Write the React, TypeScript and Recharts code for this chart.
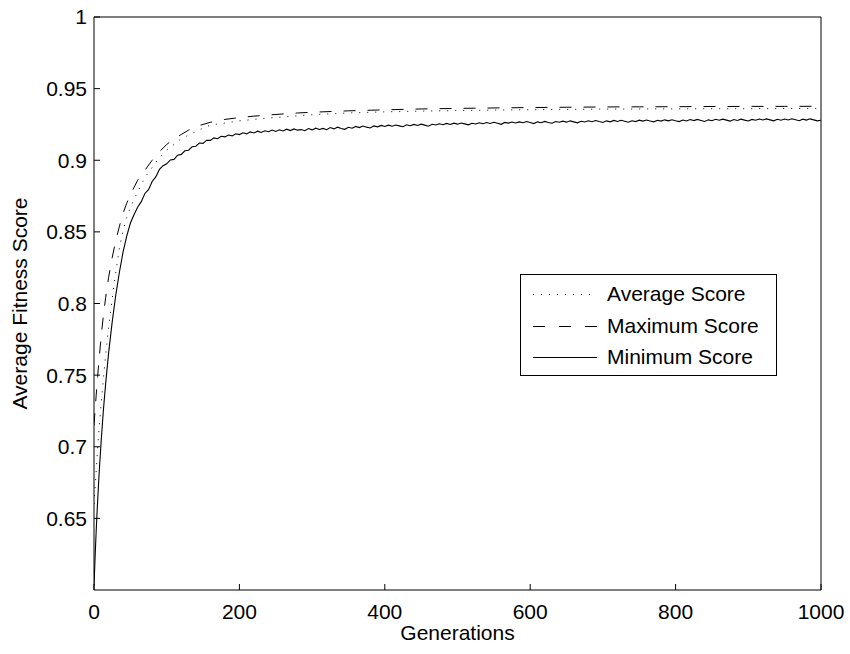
import { LineChart, Line, XAxis, YAxis, Legend } from 'recharts'

const FONT = '"Liberation Sans", Arial, Helvetica, sans-serif'

// generations sampled for the smooth series (max / average)
const GENERATIONS = [
  0, 1, 2, 3, 5, 7, 10, 13, 16, 20,
  25, 30, 35, 40, 45, 50,
  60, 70, 80, 90, 100, 110, 120, 130, 140, 150, 160,
  180, 200, 220, 240, 260, 280, 300,
  350, 400, 450, 500, 550, 600, 650, 700, 750, 800, 850, 900, 950, 1000,
]

const MAX_SCORE = [
  0.715, 0.722, 0.729, 0.736, 0.749, 0.761, 0.778, 0.792, 0.804, 0.818,
  0.832, 0.844, 0.854, 0.863, 0.87, 0.876,
  0.886, 0.893, 0.9, 0.906, 0.911, 0.915, 0.918, 0.921, 0.9235, 0.925, 0.9265,
  0.9285, 0.9298, 0.9308, 0.9316, 0.9323, 0.933, 0.9335,
  0.9345, 0.9352, 0.9358, 0.9362, 0.9365, 0.9368, 0.937, 0.9372, 0.9373, 0.9374, 0.9375, 0.9376, 0.9376, 0.9377,
]

const AVG_SCORE = [
  0.66, 0.668, 0.675, 0.683, 0.699, 0.713, 0.731, 0.748, 0.764, 0.783,
  0.803, 0.822, 0.839, 0.851, 0.86, 0.867,
  0.878, 0.888, 0.895, 0.902, 0.907, 0.911, 0.915, 0.9175, 0.92, 0.9225, 0.9245,
  0.926, 0.9275, 0.9285, 0.9295, 0.9302, 0.931, 0.9318,
  0.933, 0.9338, 0.9343, 0.9347, 0.935, 0.9353, 0.9355, 0.9357, 0.9358, 0.9359, 0.936, 0.936, 0.9361, 0.9362,
]

// minimum score: fine start, then every 5 generations from 60 on
const MIN_GEN_EARLY = [0, 1, 2, 3, 4, 5, 7, 10, 13, 16, 20, 25, 30, 35, 40, 45, 50, 55]
const MIN_EARLY = [
  0.603, 0.616, 0.629, 0.641, 0.652, 0.662, 0.681, 0.705, 0.726, 0.744,
  0.765, 0.787, 0.806, 0.822, 0.836, 0.847, 0.856, 0.862,
]
const MIN_LATE = [
  0.8672, 0.8711, 0.8768, 0.8795, 0.8852, 0.8884, 0.8936, 0.8962, 0.8975, 0.9002,
  0.9006, 0.9035, 0.9041, 0.9066, 0.907, 0.9094, 0.9098, 0.912, 0.9118, 0.914,
  0.9139, 0.9156, 0.915, 0.9167, 0.9163, 0.9176, 0.917, 0.9185, 0.9179, 0.9192,
  0.9184, 0.9198, 0.919, 0.9203, 0.9194, 0.9206, 0.9199, 0.9211, 0.9201, 0.9213,
  0.9204, 0.9217, 0.9207, 0.9219, 0.921, 0.9214, 0.9206, 0.9221, 0.9212, 0.9224,
  0.9215, 0.9222, 0.9213, 0.9228, 0.9219, 0.9231, 0.9222, 0.9216, 0.923, 0.9224,
  0.9236, 0.9228, 0.9239, 0.9231, 0.9225, 0.924, 0.9233, 0.9243, 0.9236, 0.9245,
  0.9238, 0.9246, 0.924, 0.9234, 0.9248, 0.9241, 0.925, 0.9243, 0.9252, 0.9245,
  0.9238, 0.9251, 0.9246, 0.9255, 0.9248, 0.9257, 0.925, 0.9259, 0.9252, 0.926,
  0.9254, 0.9247, 0.9258, 0.9253, 0.9262, 0.9255, 0.9263, 0.9257, 0.9265, 0.9258,
  0.9251, 0.9264, 0.9259, 0.9267, 0.926, 0.9268, 0.9262, 0.927, 0.9263, 0.9256,
  0.9268, 0.9262, 0.9271, 0.9264, 0.9258, 0.927, 0.9265, 0.9273, 0.9266, 0.9275,
  0.9268, 0.9261, 0.9272, 0.9267, 0.9276, 0.9269, 0.9277, 0.927, 0.9264, 0.9275,
  0.9268, 0.9278, 0.9271, 0.9279, 0.9272, 0.9265, 0.9276, 0.927, 0.928, 0.9273,
  0.9281, 0.9274, 0.9268, 0.9279, 0.9273, 0.9282, 0.9275, 0.9283, 0.9276, 0.927,
  0.9281, 0.9274, 0.9284, 0.9277, 0.9285, 0.9278, 0.9271, 0.9282, 0.9276, 0.9286,
  0.9279, 0.9287, 0.928, 0.9273, 0.9284, 0.9278, 0.9287, 0.928, 0.9274, 0.9285,
  0.9279, 0.9288, 0.9281, 0.9289, 0.9282, 0.9275, 0.9286, 0.9279, 0.9288, 0.9281,
  0.929, 0.9283, 0.9276, 0.9287, 0.928, 0.9289, 0.9282, 0.9275, 0.9279,
]
const MIN_GEN_LATE = MIN_LATE.map((_v, i) => 60 + 5 * i)

const X_TICKS = [0, 200, 400, 600, 800, 1000]
const Y_TICKS = [0.65, 0.7, 0.75, 0.8, 0.85, 0.9, 0.95, 1]
const SERIES_NAMES = ['Average Score', 'Maximum Score', 'Minimum Score']

const maxData = GENERATIONS.map((gen, i) => ({ gen, score: MAX_SCORE[i] }))
const avgData = GENERATIONS.map((gen, i) => ({ gen, score: AVG_SCORE[i] }))
const minData = [
  ...MIN_GEN_EARLY.map((gen, i) => ({ gen, score: MIN_EARLY[i] })),
  ...MIN_GEN_LATE.map((gen, i) => ({ gen, score: MIN_LATE[i] })),
]

const DOTTED = '1 7'
const DASHED = '12 12'

const LegendBox = () => {
  const samples = [DOTTED, '12 14', undefined]
  return (
    <div
      style={{
        position: 'relative',
        width: 255,
        height: 100,
        border: '1px solid #000',
        background: '#fff',
        fontFamily: FONT,
        fontSize: 21,
        color: '#000',
      }}
    >
      {SERIES_NAMES.map((name, i) => (
        <div
          key={name}
          style={{
            position: 'absolute',
            left: 0,
            top: 7 + i * 31.5,
            height: 24,
            lineHeight: '24px',
            whiteSpace: 'nowrap',
          }}
        >
          <svg width={80} height={24} style={{ position: 'absolute', left: 0, top: 0 }}>
            <line
              x1={12}
              x2={76}
              y1={12.5}
              y2={12.5}
              stroke='#000'
              strokeWidth={1}
              strokeDasharray={samples[i]}
            />
          </svg>
          <span style={{ position: 'absolute', left: 86, top: 0 }}>{name}</span>
        </div>
      ))}
    </div>
  )
}

const tickStyle = { fill: '#000', fontSize: 21, fontFamily: FONT }

export default function App() {
  return (
    <div style={{ position: 'absolute', left: 0, top: 0, background: '#fff', fontFamily: FONT }}>
      <LineChart width={850} height={654} margin={{ top: 12, right: 24, bottom: 0, left: 0 }}>
        <XAxis
          dataKey='gen'
          type='number'
          domain={[0, 1000]}
          ticks={X_TICKS}
          allowDataOverflow
          height={64}
          stroke='#000'
          tickSize={-6}
          tickMargin={20}
          tick={tickStyle}
          label={{
            value: 'Generations',
            position: 'insideBottom',
            offset: 14,
            fill: '#000',
            fontSize: 21,
            fontFamily: FONT,
          }}
        />
        <XAxis
          xAxisId='top'
          orientation='top'
          type='number'
          domain={[0, 1000]}
          ticks={X_TICKS}
          allowDataOverflow
          height={5}
          stroke='#000'
          tickSize={-6}
          tick={false}
        />
        <YAxis
          type='number'
          domain={[0.6, 1]}
          ticks={Y_TICKS}
          allowDataOverflow
          width={94}
          stroke='#000'
          tickSize={-6}
          tickMargin={13}
          tick={tickStyle}
          label={{
            value: 'Average Fitness Score',
            angle: -90,
            position: 'insideLeft',
            offset: 20,
            fill: '#000',
            fontSize: 21,
            fontFamily: FONT,
            style: { textAnchor: 'middle' },
          }}
        />
        <YAxis
          yAxisId='right'
          orientation='right'
          type='number'
          domain={[0.6, 1]}
          ticks={Y_TICKS}
          allowDataOverflow
          width={5}
          stroke='#000'
          tickSize={-6}
          tick={false}
        />
        <Legend
          layout='horizontal'
          verticalAlign='middle'
          align='center'
          wrapperStyle={{ left: 520, top: 274, width: 257, height: 102 }}
          content={() => <LegendBox />}
        />
        <Line
          data={avgData}
          dataKey='score'
          name={SERIES_NAMES[0]}
          type='linear'
          stroke='#000'
          strokeWidth={1}
          strokeDasharray={DOTTED}
          dot={false}
          activeDot={false}
          isAnimationActive={false}
        />
        <Line
          data={maxData}
          dataKey='score'
          name={SERIES_NAMES[1]}
          type='linear'
          stroke='#000'
          strokeWidth={1}
          strokeDasharray={DASHED}
          dot={false}
          activeDot={false}
          isAnimationActive={false}
        />
        <Line
          data={minData}
          dataKey='score'
          name={SERIES_NAMES[2]}
          type='linear'
          stroke='#000'
          strokeWidth={1.1}
          dot={false}
          activeDot={false}
          isAnimationActive={false}
        />
      </LineChart>
    </div>
  )
}
